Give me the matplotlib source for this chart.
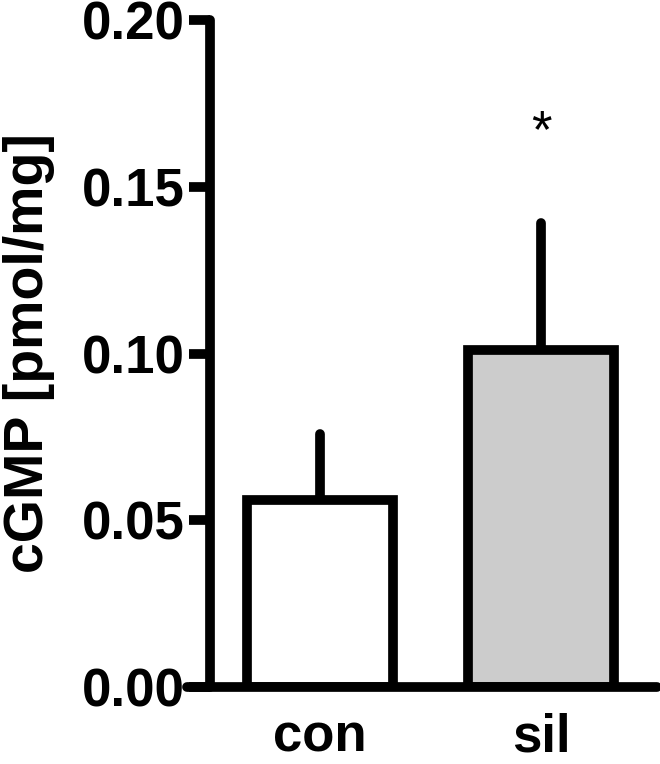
import matplotlib
matplotlib.use("Agg")
from matplotlib import pyplot as plt

# data
groups = ["con", "sil"]
means = [0.056, 0.101]
sem_up = [0.020, 0.038]
bar_colors = ["white", "#cccccc"]
yticks = [0.00, 0.05, 0.10, 0.15, 0.20]
star_y = 0.166

plt.rcParams["font.family"] = ["Liberation Sans", "DejaVu Sans"]
plt.rcParams["font.weight"] = "bold"

fig = plt.figure(figsize=(6.6, 7.64), dpi=100)
ax = fig.add_axes([187 / 660, 77 / 764, 470 / 660, 667 / 764])

x = list(range(len(groups)))
ax.bar(x, means, width=0.66, color=bar_colors, edgecolor="black",
       linewidth=7, joinstyle="miter", zorder=2)

# one sided error bars (upwards only)
eb = ax.errorbar(x, means, yerr=[[0] * len(x), sem_up], fmt="none",
                 ecolor="black", elinewidth=7, capsize=0, zorder=1)
for lc in eb.lines[2]:
    lc.set_capstyle("round")

ax.text(1, star_y, "*", ha="center", va="center", fontsize=38,
        fontweight="normal")

ax.set_xlim(-0.602, 1.525)
ax.set_ylim(0, 0.2)
ax.spines["top"].set_visible(False)
ax.spines["right"].set_visible(False)
ax.spines["left"].set_position(("data", -0.498))
ax.spines["left"].set_bounds(0, 0.2)
for s in ["left", "bottom"]:
    ax.spines[s].set_linewidth(7)
    ax.spines[s].set_capstyle("round")

ax.set_yticks(yticks)
ax.set_yticklabels(["%.2f" % v for v in yticks])
ax.tick_params(axis="y", direction="out", length=15, width=7, pad=3,
               labelsize=38)
ax.set_xticks(x)
ax.set_xticklabels(groups)
ax.tick_params(axis="x", length=0, pad=18, labelsize=38)

ax.set_ylabel("cGMP [pmol/mg]", fontsize=40, fontweight="bold")
ax.yaxis.set_label_coords(-0.28, 0.5)

fig.savefig("out.png", dpi=100)
